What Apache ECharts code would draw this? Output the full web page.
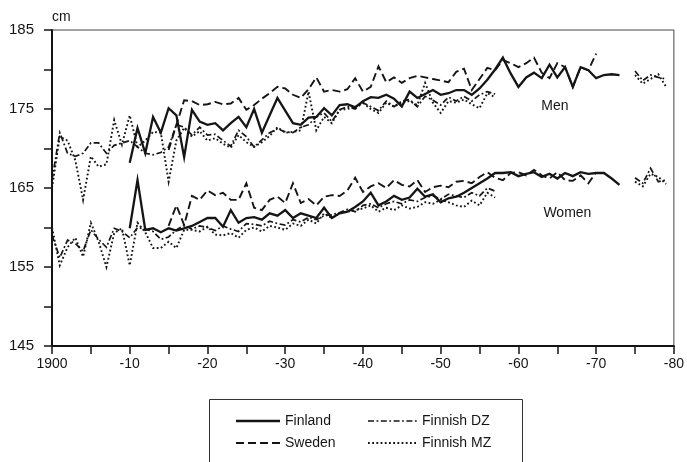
<!DOCTYPE html>
<html><head><meta charset="utf-8">
<script src="https://cdn.jsdelivr.net/npm/echarts@6/dist/echarts.min.js"></script>
<style>html,body{margin:0;padding:0;background:#fff}#c{width:687px;height:462px}</style>
</head><body><div id="c"></div>
<script>
// ---- data (cm) ----
const xTicks = ['1900','-10','-20','-30','-40','-50','-60','-70','-80'];
const yTicks = [145,155,165,175,185];
const legendNames = ['Finland','Sweden','Finnish DZ','Finnish MZ'];
const groupLabels = [{text:'Men', year:1964.7, cm:175.4}, {text:'Women', year:1966.3, cm:161.8}];

const finlandStart = 1910;
const finlandMen = [168.2,172.6,169.4,174.0,172.0,175.1,174.2,168.9,174.9,173.4,
  173.0,173.2,172.3,173.2,174.0,172.7,175.0,172.0,174.2,176.4,
  174.8,173.2,173.0,173.9,174.0,175.1,174.2,175.5,175.6,175.2,
  176.0,176.5,176.4,176.8,176.3,175.3,177.2,176.4,176.9,177.4,
  176.8,177.0,177.4,177.4,176.8,177.6,178.7,180.0,181.5,179.5,
  177.8,179.0,179.6,178.9,180.6,179.0,180.3,177.8,180.3,179.9,
  178.9,179.3,179.4,179.3];
const finlandWomen = [159.9,166.0,159.7,159.9,159.4,159.9,159.6,159.9,160.2,160.7,
  161.2,161.2,160.1,162.2,160.6,161.2,161.3,161.0,161.8,161.5,
  162.2,161.2,161.8,161.5,161.2,162.5,161.2,161.8,162.0,162.6,
  163.3,164.4,162.8,163.3,164.0,163.5,163.8,164.9,163.9,164.2,
  163.2,163.7,163.9,164.4,165.0,165.6,166.2,166.9,166.9,167.0,
  166.5,166.8,167.0,166.4,166.8,166.2,166.9,166.5,167.0,166.8,
  166.9,166.9,166.2,165.4];

const swedenStart = 1915;
const swedenMen = [169.8,173.0,176.1,176.0,175.5,175.6,175.9,175.6,175.7,176.4,
  174.9,175.5,176.3,177.0,177.8,177.6,176.8,176.4,177.5,179.0,
  177.2,177.4,177.2,177.5,178.9,177.2,177.8,180.4,178.4,179.0,
  178.3,178.9,179.2,179.0,178.8,178.6,178.4,179.7,180.1,177.4,
  178.8,180.2,179.9,181.2,180.8,180.3,180.8,181.5,179.6,178.9,
  180.8,180.3,177.8,180.3,179.9,182.0];
const swedenWomen = [160.2,162.8,160.3,164.0,163.5,164.7,164.1,164.4,163.5,163.5,
  165.6,162.5,162.2,163.5,163.9,163.1,165.6,163.1,163.6,162.8,
  163.9,164.1,164.0,164.7,166.3,164.5,165.2,165.6,165.0,166.0,
  165.4,165.2,166.0,164.5,165.1,165.3,165.1,165.8,165.9,165.6,
  166.4,167.0,166.3,166.0,166.9,167.0,166.6,167.3,166.6,166.2,
  167.0,166.0,165.9,166.6,165.6,167.0];

const twinStart = 1900;
const dzMen = [166.0,172.0,169.4,169.0,169.4,170.7,170.7,169.4,170.4,170.7,
  171.0,170.2,169.4,169.2,169.5,170.2,173.0,172.7,171.7,172.7,
  171.7,171.8,171.0,170.3,172.3,171.5,170.2,171.1,172.0,172.5,
  172.1,172.0,172.7,173.0,174.0,174.5,173.4,174.9,175.3,175.0,
  175.8,175.3,174.8,176.0,175.3,176.0,176.2,175.3,176.6,176.1,
  175.5,176.5,176.0,176.6,176.0,176.8,177.2,176.9];
const mzMen = [165.0,171.5,171.0,168.5,163.5,169.0,167.7,168.0,173.6,170.5,
  174.2,170.2,171.0,172.1,172.0,165.8,171.0,172.6,171.5,172.2,
  171.0,171.3,170.6,170.1,171.7,170.8,170.2,170.8,171.6,172.7,
  172.0,172.1,172.3,177.2,172.3,174.0,173.2,174.9,175.0,175.3,
  175.8,175.0,174.5,175.8,175.3,175.8,176.0,175.5,178.3,175.8,
  174.5,176.0,175.8,176.2,175.6,175.1,177.0,176.5];
const dzWomen = [159.0,156.2,158.4,158.0,157.0,159.7,158.5,157.5,159.9,159.5,
  158.7,160.0,159.8,159.5,158.5,158.8,159.7,160.3,159.8,160.2,
  160.0,159.6,160.2,159.8,159.5,160.5,160.4,160.2,160.8,160.5,
  160.3,161.0,160.7,161.3,161.0,161.5,161.6,161.9,162.3,162.0,
  162.8,163.0,162.5,163.0,163.3,163.0,163.5,163.3,163.8,164.0,
  163.6,164.2,164.0,163.8,164.4,164.0,165.0,164.6];
const mzWomen = [160.0,155.2,157.5,158.7,156.3,160.6,158.2,155.0,159.3,159.9,
  155.2,160.6,159.4,157.4,157.4,158.2,157.4,159.7,159.7,159.5,
  160.1,159.1,159.0,159.3,158.7,159.7,160.0,159.5,160.2,160.0,
  159.7,160.5,160.2,161.0,160.5,161.8,161.2,161.8,162.0,162.2,
  162.4,162.8,162.0,162.5,162.2,162.8,162.4,162.6,163.2,163.0,
  163.5,163.2,162.8,162.6,163.4,162.8,164.4,163.8];

const twinLateStart = 1975;
const dzMenLate = [179.8,178.6,179.3,179.0,178.8];
const mzMenLate = [179.3,178.2,178.8,179.4,177.8];
const dzWomenLate = [166.3,165.6,167.5,165.8,166.0];
const mzWomenLate = [165.8,165.2,166.8,166.4,165.5];

// ---- chart ----
const FONT = 'Liberation Sans, Arial, Helvetica, sans-serif';
const INK = '#151515';
const styles = {
  'Finland':    {type:'solid', width:2.3},
  'Sweden':     {type:[8,4], width:1.9},
  'Finnish DZ': {type:[6,2.5,1.8,2.5], width:1.7},
  'Finnish MZ': {type:[1.8,2.4], width:1.9}
};
function pts(start, arr){ return arr.map((v,i)=>[start+i, v==null?'-':v]); }
function mk(name, start, arr){
  return {
    name, type:'line', data: pts(start, arr), symbol:'none', silent:true,
    lineStyle:{color:INK, type:styles[name].type, width:styles[name].width, cap:'butt', join:'miter'},
    itemStyle:{color:INK}, animation:false, connectNulls:false
  };
}

const series = [
  mk('Finland', finlandStart, finlandMen),
  mk('Finland', finlandStart, finlandWomen),
  mk('Sweden', swedenStart, swedenMen),
  mk('Sweden', swedenStart, swedenWomen),
  mk('Finnish DZ', twinStart, dzMen),
  mk('Finnish DZ', twinStart, dzWomen),
  mk('Finnish DZ', twinLateStart, dzMenLate),
  mk('Finnish DZ', twinLateStart, dzWomenLate),
  mk('Finnish MZ', twinStart, mzMen),
  mk('Finnish MZ', twinStart, mzWomen),
  mk('Finnish MZ', twinLateStart, mzMenLate),
  mk('Finnish MZ', twinLateStart, mzWomenLate)
];

const chart = echarts.init(document.getElementById('c'), null, {renderer:'canvas'});
chart.setOption({
  animation:false,
  backgroundColor:'#fff',
  grid:{left:52, right:9, top:30, bottom:116, show:true, borderColor:'#444', borderWidth:1, backgroundColor:'transparent'},
  xAxis:{
    type:'value', min:1900, max:1980, interval:5,
    axisLine:{show:true, onZero:false, lineStyle:{color:INK, width:2}},
    axisTick:{show:true, length:8, lineStyle:{color:INK, width:1.5}},
    splitLine:{show:false},
    axisLabel:{margin:11, fontFamily:FONT, fontSize:14, color:INK, showMaxLabel:true, showMinLabel:true,
      formatter: v => { const k=(v-1900)/10; return Number.isInteger(k) ? xTicks[k] : ''; }}
  },
  yAxis:{
    type:'value', min:145, max:185, interval:5,
    name:'cm', nameLocation:'end', nameGap:6,
    nameTextStyle:{fontFamily:FONT, fontSize:14, color:INK, align:'left', padding:[0,0,0,0]},
    axisLine:{show:true, onZero:false, lineStyle:{color:INK, width:2}},
    axisTick:{show:true, length:8, lineStyle:{color:INK, width:1.5}},
    splitLine:{show:false},
    axisLabel:{margin:18, fontFamily:FONT, fontSize:15, color:INK,
      formatter: v => yTicks.indexOf(v) >= 0 ? String(v) : ''}
  },
  series
});

// legend box (hand-drawn key) and group labels
const g = [
  {type:'rect', shape:{x:209.5, y:399.5, width:313, height:80}, style:{fill:'none', stroke:'#333', lineWidth:1}, silent:true}
];
const legendPos = [[236,421],[236,443],[368,421],[368,443]];
legendNames.forEach((n,i)=>{
  const [x,y] = legendPos[i];
  const w = (i<2) ? 44 : 49;
  g.push({type:'line', shape:{x1:x, y1:y, x2:x+w, y2:y}, silent:true,
    style:{stroke:INK, lineWidth:styles[n].width, lineDash: styles[n].type==='solid'?null:styles[n].type}});
  g.push({type:'text', x:x+w+5, y:y, silent:true,
    style:{text:n, font:'14px '+FONT, fill:INK, textVerticalAlign:'middle', verticalAlign:'middle'}});
});
groupLabels.forEach(l=>{
  const p = chart.convertToPixel({gridIndex:0}, [l.year, l.cm]);
  g.push({type:'text', x:p[0], y:p[1], silent:true,
    style:{text:l.text, font:'14px '+FONT, fill:INK, align:'center', textAlign:'center', verticalAlign:'middle', textVerticalAlign:'middle'}});
});
chart.setOption({graphic:g});
</script>
</body></html>
